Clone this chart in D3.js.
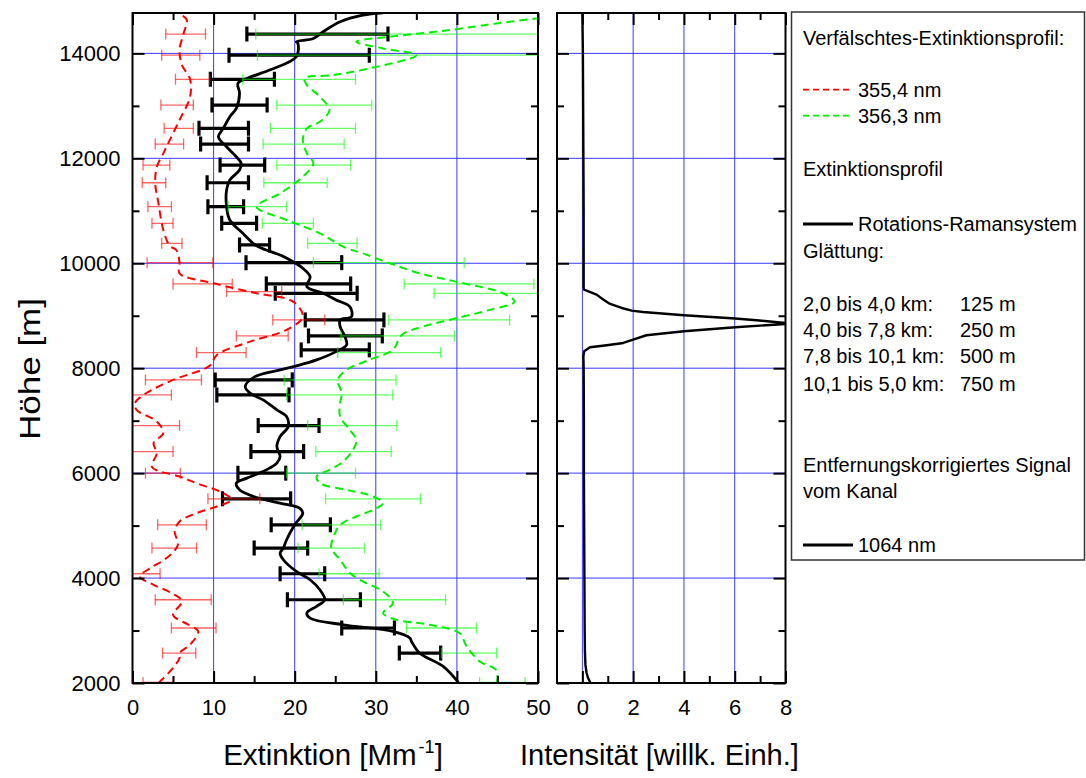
<!DOCTYPE html>
<html><head><meta charset="utf-8">
<script src="https://cdn.jsdelivr.net/npm/d3@7"></script>
<style>body{margin:0;background:#fff}svg{display:block;font-family:"Liberation Sans",Arial,sans-serif}</style>
</head><body><svg id="c" width="1086" height="778"></svg>
<script>
// ---- Data (altitude in m, extinction in Mm^-1) ----
const altBlack = [2000,2063,2316,2571,2792,2857,2983,3110,3238,3333,3460,3587,3777,3968,4126,4349,4476,4571,4730,5015,5238,5333,5428,5555,5682,5809,5905,6030,6095,6190,6316,6507,6697,6888,7078,7206,7396,7524,7650,7840,7968,8044,8158,8316,8444,8602,8792,8920,8983,9173,9301,9428,9554,9745,9905,10030,10158,10253,10340,10571,10825,11078,11396,11587,11777,11904,12030,12221,12411,12571,12792,12952,13238,13428,13523,13682,13936,14190,14222,14285,14412,14603,14730,14775];
const extBlack = [40.2,39.9,38.3,35.4,34.4,34.2,32.1,26.0,21.9,21.5,22.7,23.7,23.1,21.9,20.2,18.6,18.2,18.6,19.0,20.0,21.0,20.6,18.2,14.9,13.2,12.8,14.1,16.1,16.9,17.8,18.2,17.8,18.2,19.2,19.0,17.8,16.1,14.5,13.9,15.1,18.2,20.2,22.7,25.1,26.4,26.2,25.6,25.6,27.0,26.8,25.1,23.5,21.5,21.9,21.0,19.8,18.2,16.5,15.2,13.6,12.0,11.6,11.6,12.0,13.2,13.4,12.8,11.6,10.6,11.2,12.0,12.8,13.2,13.0,14.1,16.9,20.2,20.4,20.2,22.3,23.5,25.6,28.4,30.9];

const altRed = [2000,2030,2286,2476,2571,2730,2983,3110,3300,3555,3714,3872,4031,4190,4381,4634,4888,5079,5238,5364,5492,5619,5809,5935,6120,6381,6571,6762,6983,7206,7333,7524,7777,8044,8253,8507,8730,8983,9269,9428,9619,9809,10012,10253,10330,10635,11143,11524,11840,12095,12349,12730,13174,13505,13777,14063,14380,14634,14730,14775];
const extRed = [3.2,3.4,5.0,5.8,5.8,7.1,8.1,6.9,5.0,6.1,4.8,2.6,0.9,2.2,4.2,5.6,5.2,5.8,7.9,10.4,12.2,11.2,7.9,5.8,2.4,3.0,2.6,3.8,3.0,0.5,0.3,1.7,5.0,9.5,10.4,14.5,19.0,21.0,19.8,15.3,10.0,5.8,5.8,5.4,4.6,3.8,3.2,2.8,3.0,3.8,4.6,5.8,7.1,7.1,6.1,5.8,6.3,6.7,6.1,5.6];

const altGreen = [2000,2238,2412,2698,2952,3110,3206,3333,3523,3745,3935,4095,4349,4571,4825,5015,5174,5301,5428,5555,5682,5809,5935,6063,6200,6444,6634,6825,7078,7333,7524,7777,7968,8158,8349,8634,8792,8952,9110,9269,9428,9650,9809,10000,10190,10300,10571,10825,11078,11333,11650,11904,12095,12349,12571,12698,12920,13174,13396,13523,13587,13714,13967,14095,14222,14330,14444,14571,14667,14740];
const extGreen = [44.9,44.9,42.8,41.2,40.3,36.6,32.5,30.9,32.1,30.9,28.4,26.8,25.6,24.5,24.9,25.6,27.6,29.7,30.9,29.7,26.4,23.1,22.7,24.3,25.8,27.2,27.6,26.8,25.6,25.6,25.8,25.3,26.4,29.2,32.1,33.2,35.8,39.9,44.0,47.1,45.7,39.9,35.4,31.7,28.4,26.2,23.1,19.0,15.3,18.2,21.0,22.3,21.5,21.0,21.5,23.1,24.3,23.1,21.5,21.2,24.7,29.2,35.0,30.9,27.6,32.5,39.1,44.9,49.8,53.0];

// error bars
const barAltBlack = [2571,3048,3587,4082,4571,5015,5510,6000,6411,6907,7491,7777,8349,8615,8920,9428,9606,10012,10350,10762,11078,11535,11872,12272,12571,13015,13505,13967,14368];
const barLoBlack  = [32.9,25.8,19.1,18.2,15.0,17.1,11.1,13.0,14.6,15.5,10.4,10.2,20.8,21.7,21.3,17.6,16.5,14.0,13.2,11.0,9.3,9.2,10.8,8.4,8.2,9.8,9.6,11.9,14.1];
const barHiBlack  = [38.0,32.3,28.1,23.7,21.6,24.4,19.5,18.9,21.1,23.0,19.3,19.7,29.2,30.8,31.0,27.7,26.9,25.8,16.9,15.3,13.7,14.3,16.3,14.3,14.3,16.6,17.5,29.2,31.5];

const barAltRed = [2010,2571,3048,3587,4082,4571,5015,5510,6000,6411,6907,7491,7777,8297,8615,8920,9460,9606,10012,10381,10762,11078,11535,11872,12272,12571,13015,13505,13967,14368];
const barLoRed  = [1.3,3.7,4.8,2.8,-0.8,2.4,3.1,9.3,1.6,-0.8,-0.8,-0.8,1.6,7.9,12.8,17.3,11.6,5.0,1.8,3.6,2.4,1.9,1.2,1.3,2.8,3.9,3.5,5.3,3.6,4.1];
const barHiRed  = [5.0,7.8,10.3,9.7,3.4,7.9,9.1,15.7,5.9,5.0,5.8,4.8,8.5,14.0,19.2,23.7,18.4,12.3,9.9,6.1,5.0,4.8,4.1,4.6,6.3,7.5,7.5,9.5,8.3,9.0];

const barAltGreen = [2010,2571,3048,3587,4082,4571,5015,5510,6000,6411,6907,7491,7777,8297,8615,8920,9428,9606,10012,10381,10762,11078,11535,11872,12272,12571,13015,13505,13967,14368];
const barLoGreen  = [42.8,38.1,33.8,26.0,23.0,20.4,20.9,23.8,19.0,22.6,21.6,19.0,18.7,25.3,25.7,31.6,37.2,33.5,22.3,21.6,16.0,11.8,16.2,17.8,16.1,17.0,17.8,13.6,15.4,15.2];
const barHiGreen  = [48.4,44.9,42.4,38.6,30.4,28.6,30.6,35.5,27.5,31.9,32.6,32.1,32.5,38.0,39.7,46.5,56.0,49.5,40.9,27.7,22.3,19.0,24.0,26.9,26.1,27.5,29.5,27.5,55.0,55.0];

// range-corrected signal 1064 nm
const altSignal = [2000,2100,2200,2350,2600,3000,4000,5000,6000,7000,8000,8228,8323,8399,8437,8481,8546,8628,8704,8780,8843,8862,8908,8946,9009,9072,9098,9148,9224,9308,9403,9466,9498,9530,10000,11000,12000,13000,14000,14770];
const valSignal = [0.32,0.22,0.16,0.12,0.10,0.09,0.08,0.07,0.06,0.06,0.05,0.04,0.07,0.30,0.96,1.61,2.00,2.52,4.00,6.02,8.0,8.0,6.97,6.02,4.00,2.39,1.94,1.55,1.09,0.82,0.56,0.24,0.06,0.05,0.05,0.05,0.04,0.03,0.02,0.0];

const xTicksLeft = [0,10,20,30,40,50];
const xMinorLeft = [5,15,25,35,45];
const xTicksRight = [0,2,4,6,8];
const xMinorRight = [1,3,5,7];
const yTicks = [2000,4000,6000,8000,10000,12000,14000];
const yMinor = [3000,5000,7000,9000,11000,13000];

// ---- Layout ----
const svg = d3.select("#c");
const FONT = '"Liberation Sans",Arial,sans-serif';
const y = d3.scaleLinear().domain([2000,14770]).range([683,13]);
const xL = d3.scaleLinear().domain([0,50]).range([132.5,538]);
const xR = d3.scaleLinear().domain([-1,8]).range([557,785.5]);
const GRID = "#3b3bff";

function panel(x, gridX, clipId){
  const g = svg.append("g");
  const [x0,x1] = x.range(); const [y0,y1] = [y.range()[1], y.range()[0]];
  svg.append("clipPath").attr("id",clipId).append("rect").attr("x",x0).attr("y",y0).attr("width",x1-x0).attr("height",y1-y0);
  g.selectAll(".gx").data(gridX).enter().append("line")
    .attr("x1",d=>x(d)).attr("x2",d=>x(d)).attr("y1",y0).attr("y2",y1)
    .attr("stroke",GRID).attr("stroke-width",1);
  g.selectAll(".gy").data(yTicks.slice(1)).enter().append("line")
    .attr("y1",d=>y(d)).attr("y2",d=>y(d)).attr("x1",x0).attr("x2",x1)
    .attr("stroke",GRID).attr("stroke-width",1);
  return {g,x0,x1,y0,y1};
}
function frame(p, x, majors, minors, labelsLeft){
  const g = svg.append("g");
  const mk = (axis, tr) => {
    const a = g.append("g").attr("transform",tr).call(axis);
    a.select(".domain").remove();
    a.selectAll(".tick line").attr("stroke","#000").attr("stroke-width",2);
    return a;
  };
  const b = mk(d3.axisBottom(x).tickValues(majors).tickSize(-12).tickPadding(16).tickFormat(d3.format("d")), `translate(0,${p.y1})`);
  b.selectAll("text").attr("font-size",22).attr("font-family",FONT).attr("fill","#000");
  mk(d3.axisBottom(x).tickValues(minors).tickSize(-7).tickFormat(""), `translate(0,${p.y1})`);
  mk(d3.axisTop(x).tickValues(majors).tickSize(-12).tickFormat(""), `translate(0,${p.y0})`);
  mk(d3.axisTop(x).tickValues(minors).tickSize(-7).tickFormat(""), `translate(0,${p.y0})`);
  const l = mk(d3.axisLeft(y).tickValues(yTicks).tickSize(-12).tickPadding(12).tickFormat(labelsLeft?d3.format("d"):""), `translate(${p.x0},0)`);
  l.selectAll("text").attr("font-size",22).attr("font-family",FONT).attr("fill","#000");
  mk(d3.axisLeft(y).tickValues(yMinor).tickSize(-7).tickFormat(""), `translate(${p.x0},0)`);
  mk(d3.axisRight(y).tickValues(yTicks).tickSize(-12).tickFormat(""), `translate(${p.x1},0)`);
  mk(d3.axisRight(y).tickValues(yMinor).tickSize(-7).tickFormat(""), `translate(${p.x1},0)`);
  g.append("rect").attr("x",p.x0).attr("y",p.y0).attr("width",p.x1-p.x0).attr("height",p.y1-p.y0)
    .attr("fill","none").attr("stroke","#000").attr("stroke-width",2);
}

// ---- Left panel ----
const pL = panel(xL, [10,20,30,40], "clipL");
const gData = svg.append("g").attr("clip-path","url(#clipL)");

function bars(alts, lo, hi, color, width, capH){
  const gb = gData.append("g").attr("stroke",color).attr("stroke-width",width);
  alts.forEach((a,i)=>{
    gb.append("line").attr("x1",xL(lo[i])).attr("x2",xL(hi[i])).attr("y1",y(a)).attr("y2",y(a));
    gb.append("line").attr("x1",xL(lo[i])).attr("x2",xL(lo[i])).attr("y1",y(a)-capH/2).attr("y2",y(a)+capH/2);
    gb.append("line").attr("x1",xL(hi[i])).attr("x2",xL(hi[i])).attr("y1",y(a)-capH/2).attr("y2",y(a)+capH/2);
  });
}
const lineL = d3.line().x(d=>xL(d[1])).y(d=>y(d[0])).curve(d3.curveCatmullRom.alpha(0.5));

bars(barAltBlack, barLoBlack, barHiBlack, "#000", 3.2, 15);
gData.append("path").datum(d3.zip(altBlack, extBlack)).attr("d",lineL)
  .attr("fill","none").attr("stroke","#000").attr("stroke-width",2.8).attr("stroke-linejoin","round");
bars(barAltRed, barLoRed, barHiRed, "rgba(255,0,0,0.6)", 1.3, 11);
bars(barAltGreen, barLoGreen, barHiGreen, "rgba(0,255,0,0.6)", 1.3, 11);
gData.append("path").datum(d3.zip(altRed, extRed)).attr("d",lineL)
  .attr("fill","none").attr("stroke","#ff0000").attr("stroke-width",2).attr("stroke-dasharray","8,5");
gData.append("path").datum(d3.zip(altGreen, extGreen)).attr("d",lineL)
  .attr("fill","none").attr("stroke","#00f000").attr("stroke-width",2).attr("stroke-dasharray","8,5");
frame(pL, xL, xTicksLeft, xMinorLeft, true);

// ---- Right panel ----
const pR = panel(xR, [0,2,4,6], "clipR");
const lineR = d3.line().x(d=>xR(d[1])).y(d=>y(d[0])).curve(d3.curveLinear);
svg.append("g").attr("clip-path","url(#clipR)").append("path").datum(d3.zip(altSignal, valSignal)).attr("d",lineR)
  .attr("fill","none").attr("stroke","#000").attr("stroke-width",2.4).attr("stroke-linejoin","round");
frame(pR, xR, xTicksRight, xMinorRight, false);

// ---- Axis titles ----
svg.append("text").attr("transform","translate(40,369) rotate(-90)").attr("text-anchor","middle")
  .attr("font-size",30).attr("font-family",FONT).attr("textLength",142).attr("lengthAdjust","spacingAndGlyphs").text("Höhe [m]");
const t1 = svg.append("text").attr("x",333).attr("y",765).attr("text-anchor","middle").attr("font-size",29.5).attr("font-family",FONT);
t1.append("tspan").text("Extinktion [Mm");
t1.append("tspan").attr("font-size",18).attr("dy",-12).attr("dx",2).text("-1");
t1.append("tspan").attr("dy",12).text("]");
svg.append("text").attr("x",520).attr("y",765).attr("font-size",29).attr("font-family",FONT).text("Intensität [willk. Einh.]");

// ---- Legend ----
const lg = svg.append("g").attr("font-family",FONT).attr("font-size",20).attr("fill","#000");
lg.append("rect").attr("x",791.5).attr("y",12).attr("width",293).attr("height",548)
  .attr("fill","#fff").attr("stroke","#333").attr("stroke-width",1.5);
const LX = 803;
const legendRows = [
  {t:"Verfälschtes-Extinktionsprofil:", c:38},
  {t:"355,4 nm", c:89.7, line:{stroke:"#ff0000", dash:"6,4"}},
  {t:"356,3 nm", c:115.7, line:{stroke:"#00f000", dash:"6,4"}},
  {t:"Extinktionsprofil", c:169.2},
  {t:"Rotations-Ramansystem", c:224.1, line:{stroke:"#000", dash:null}},
  {t:"Glättung:", c:250.8},
  {t:"2,0 bis 4,0 km:", v:"125 m", c:303.6},
  {t:"4,0 bis 7,8 km:", v:"250 m", c:329.6},
  {t:"7,8 bis 10,1 km:", v:"500 m", c:356.4},
  {t:"10,1 bis 5,0 km:", v:"750 m", c:383.8},
  {t:"Entfernungskorrigiertes Signal", c:464.7},
  {t:"vom Kanal", c:490.8},
  {t:"1064 nm", c:545, line:{stroke:"#000", dash:null}}
];
legendRows.forEach(r=>{
  if(r.line){
    lg.append("line").attr("x1",LX).attr("x2",853).attr("y1",r.c).attr("y2",r.c)
      .attr("stroke",r.line.stroke).attr("stroke-width",r.line.dash?1.8:3).attr("stroke-dasharray",r.line.dash);
    lg.append("text").attr("x",858).attr("y",r.c+7).text(r.t);
  } else {
    lg.append("text").attr("x",LX).attr("y",r.c+7).text(r.t);
    if(r.v) lg.append("text").attr("x",960).attr("y",r.c+7).text(r.v);
  }
});
</script></body></html>
